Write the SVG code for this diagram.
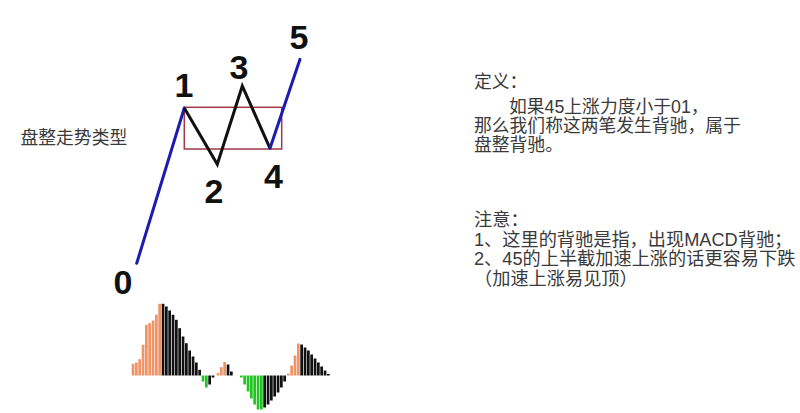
<svg xmlns="http://www.w3.org/2000/svg" width="800" height="413" viewBox="0 0 800 413">
<style>
.blue{stroke:#1c1cb0;stroke-width:3;fill:none;stroke-linecap:round}
.blk{stroke:#111;stroke-width:3;fill:none;stroke-linejoin:miter}
.box{stroke:#a03848;stroke-width:1.5;fill:none}
.num{font-family:"Liberation Sans",Arial,sans-serif;font-weight:bold;font-size:34px;fill:#111;text-anchor:middle}
.txt{font-family:"Liberation Sans","Noto Sans CJK SC",sans-serif;font-size:17.8px;fill:#3a3a3a}
.n2{font-size:18.2px}
.o{fill:#ef9466}
.k{fill:#111}
.g{fill:#22c422}
</style>
<rect width="800" height="413" fill="#fff"/>
<g id="range-box"><rect class="box" x="184.3" y="107.3" width="97.4" height="41.7"/></g>
<g id="connectors">
<line class="blue" x1="136.7" y1="263.3" x2="184.3" y2="108"/>
<polyline class="blk" points="184.3,108 217.3,164.3 242.3,86 270,148.3"/>
<line class="blue" x1="270" y1="148.3" x2="300" y2="59.3"/>
</g>
<g id="labels">
<text class="num" x="123" y="294">0</text>
<text class="num" x="184" y="97">1</text>
<text class="num" x="214" y="203">2</text>
<text class="num" x="239" y="79">3</text>
<text class="num" x="273.5" y="188">4</text>
<text class="num" x="299" y="49">5</text>
</g>
<g id="title"><text class="txt" x="20.5" y="144">盘整走势类型</text></g>
<g id="definition">
<text class="txt" x="474" y="88">定义：</text>
<text class="txt" x="509" y="113">如果45上涨力度小于01，</text>
<text class="txt" x="474" y="132">那么我们称这两笔发生背驰，属于</text>
<text class="txt" x="474" y="151">盘整背驰。</text>
</g>
<g id="notes">
<text class="txt n2" x="474" y="226">注意：</text>
<text class="txt n2" x="474" y="246">1、这里的背驰是指，出现MACD背驰；</text>
<text class="txt n2" x="474" y="265">2、45的上半截加速上涨的话更容易下跌</text>
<text class="txt n2" x="474" y="285">（加速上涨易见顶）</text>
</g>
<g id="macd">
<rect class="o" x="131.7" y="363.8" width="2.7" height="11.7"/>
<rect class="o" x="135" y="362.5" width="2.7" height="13"/>
<rect class="o" x="138.3" y="359.2" width="2.7" height="16.3"/>
<rect class="o" x="141.7" y="344.8" width="2.7" height="30.7"/>
<rect class="o" x="145" y="324.8" width="2.7" height="50.7"/>
<rect class="o" x="148.3" y="323.2" width="2.7" height="52.3"/>
<rect class="o" x="151.7" y="320.5" width="2.7" height="55"/>
<rect class="o" x="155" y="314.8" width="2.7" height="60.7"/>
<rect class="o" x="158.3" y="303.8" width="2.7" height="71.7"/>
<rect class="k" x="161.7" y="303.8" width="2.7" height="71.7"/>
<rect class="k" x="165" y="306.5" width="2.7" height="69"/>
<rect class="k" x="168.3" y="310.5" width="2.7" height="65"/>
<rect class="k" x="171.7" y="314.8" width="2.7" height="60.7"/>
<rect class="k" x="175" y="319.8" width="2.7" height="55.7"/>
<rect class="k" x="178.3" y="328.2" width="2.7" height="47.3"/>
<rect class="k" x="181.7" y="336.5" width="2.7" height="39"/>
<rect class="k" x="185" y="343.2" width="2.7" height="32.3"/>
<rect class="k" x="188.3" y="350.5" width="2.7" height="25"/>
<rect class="k" x="191.7" y="356.5" width="2.7" height="19"/>
<rect class="k" x="195" y="362.5" width="2.7" height="13"/>
<rect class="k" x="198.3" y="369.8" width="2.7" height="5.7"/>
<rect class="g" x="201.7" y="375.5" width="2.7" height="6"/>
<rect class="g" x="205" y="375.5" width="2.7" height="12"/>
<rect class="k" x="208.3" y="375.5" width="2.7" height="9"/>
<rect class="k" x="211.7" y="375.5" width="2.7" height="2"/>
<rect class="o" x="216.7" y="373" width="2.7" height="2.5"/>
<rect class="o" x="220" y="367.2" width="2.7" height="8.3"/>
<rect class="o" x="223.3" y="362" width="2.7" height="13.5"/>
<rect class="k" x="226.7" y="364.5" width="2.7" height="11"/>
<rect class="k" x="230" y="371.5" width="2.7" height="4"/>
<rect class="g" x="240" y="375.5" width="2.7" height="2"/>
<rect class="g" x="243.3" y="375.5" width="2.7" height="9"/>
<rect class="g" x="246.7" y="375.5" width="2.7" height="16"/>
<rect class="g" x="250" y="375.5" width="2.7" height="23"/>
<rect class="g" x="253.3" y="375.5" width="2.7" height="29"/>
<rect class="g" x="256.7" y="375.5" width="2.7" height="34"/>
<rect class="g" x="260" y="375.5" width="2.7" height="34"/>
<rect class="k" x="263.3" y="375.5" width="2.7" height="32"/>
<rect class="k" x="266.7" y="375.5" width="2.7" height="29"/>
<rect class="k" x="270" y="375.5" width="2.7" height="25"/>
<rect class="k" x="273.3" y="375.5" width="2.7" height="21"/>
<rect class="k" x="276.7" y="375.5" width="2.7" height="17"/>
<rect class="k" x="280" y="375.5" width="2.7" height="12"/>
<rect class="k" x="283.3" y="375.5" width="2.7" height="6"/>
<rect class="o" x="287" y="373.5" width="2.7" height="2"/>
<rect class="o" x="290.3" y="365.5" width="2.7" height="10"/>
<rect class="o" x="293.7" y="355.5" width="2.7" height="20"/>
<rect class="o" x="297" y="343.5" width="2.7" height="32"/>
<rect class="k" x="300.3" y="344.5" width="2.7" height="31"/>
<rect class="k" x="303.7" y="347.5" width="2.7" height="28"/>
<rect class="k" x="307" y="350.5" width="2.7" height="25"/>
<rect class="k" x="310.3" y="354.5" width="2.7" height="21"/>
<rect class="k" x="313.7" y="358.5" width="2.7" height="17"/>
<rect class="k" x="317" y="362.5" width="2.7" height="13"/>
<rect class="k" x="320.3" y="366.5" width="2.7" height="9"/>
<rect class="k" x="323.7" y="370.5" width="2.7" height="5"/>
<rect class="k" x="327" y="374" width="2.7" height="1.5"/>
</g>
</svg>
